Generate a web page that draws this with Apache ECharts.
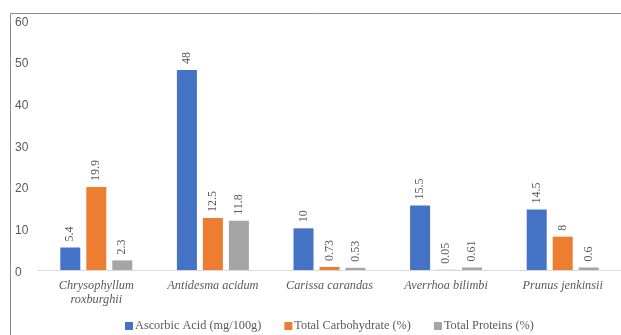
<!DOCTYPE html>
<html>
<head>
<meta charset="utf-8">
<script src="https://cdn.jsdelivr.net/npm/echarts@6/dist/echarts.min.js"></script>
<style>
  html, body { margin: 0; padding: 0; background: #fff; }
  #chart { width: 621px; height: 335px; }
</style>
</head>
<body>
<div id="chart"></div>
<script>
// Fruit species and their measured nutrients
const species = ['Chrysophyllum\nroxburghii', 'Antidesma acidum', 'Carissa carandas', 'Averrhoa bilimbi', 'Prunus jenkinsii'];
const ascorbicAcid = [5.4, 48, 10, 15.5, 14.5];
const totalCarbohydrate = [19.9, 12.5, 0.73, 0.05, 8];
const totalProteins = [2.3, 11.8, 0.53, 0.61, 0.6];
const seriesNames = ['Ascorbic Acid (mg/100g)', 'Total Carbohydrate (%)', 'Total Proteins (%)'];
const yTicks = { min: 0, max: 60, interval: 10 };

const serif = 'serif';
const textGray = '#595959';

function barSeries(name, data, color) {
  return {
    name: name,
    type: 'bar',
    data: data,
    barWidth: 20,
    barGap: '30%',
    itemStyle: { color: color },
    label: {
      show: true,
      position: 'top',
      rotate: 90,
      align: 'left',
      verticalAlign: 'middle',
      distance: 6,
      fontFamily: serif,
      fontSize: 12,
      color: textGray
    }
  };
}

const chart = echarts.init(document.getElementById('chart'), null, { renderer: 'canvas' });
chart.setOption({
  animation: false,
  backgroundColor: '#ffffff',
  graphic: [{
    type: 'rect',
    shape: { x: 10.5, y: 13.5, width: 700, height: 400 },
    style: { fill: 'none', stroke: '#8c8c8c', lineWidth: 1 },
    silent: true
  }],
  grid: { left: 38, top: 20, width: 590, height: 250 },
  legend: {
    data: seriesNames,
    left: 125,
    top: 320,
    padding: 0,
    icon: 'rect',
    itemWidth: 8,
    itemHeight: 8,
    itemGap: 23,
    textStyle: { fontFamily: serif, fontSize: 12.3, color: textGray, padding: [0, 0, 0, -3] }
  },
  xAxis: {
    type: 'category',
    data: species,
    axisLine: { lineStyle: { color: '#d9d9d9' } },
    axisTick: { show: false },
    axisLabel: {
      interval: 0,
      margin: 9,
      fontFamily: serif,
      fontStyle: 'italic',
      fontSize: 12.3,
      lineHeight: 14,
      color: textGray
    }
  },
  yAxis: {
    type: 'value',
    min: yTicks.min,
    max: yTicks.max,
    interval: yTicks.interval,
    axisLine: { show: false },
    axisTick: { show: false },
    splitLine: { show: false },
    axisLabel: {
      align: 'left',
      margin: 23,
      formatter: '{v|{value}}',
      rich: {
        v: {
          fontFamily: 'sans-serif',
          fontSize: 12,
          color: textGray,
          padding: [5, 0, 0, 0]
        }
      }
    }
  },
  series: [
    barSeries(seriesNames[0], ascorbicAcid, '#4472C4'),
    barSeries(seriesNames[1], totalCarbohydrate, '#ED7D31'),
    barSeries(seriesNames[2], totalProteins, '#A5A5A5')
  ]
});
</script>
</body>
</html>
